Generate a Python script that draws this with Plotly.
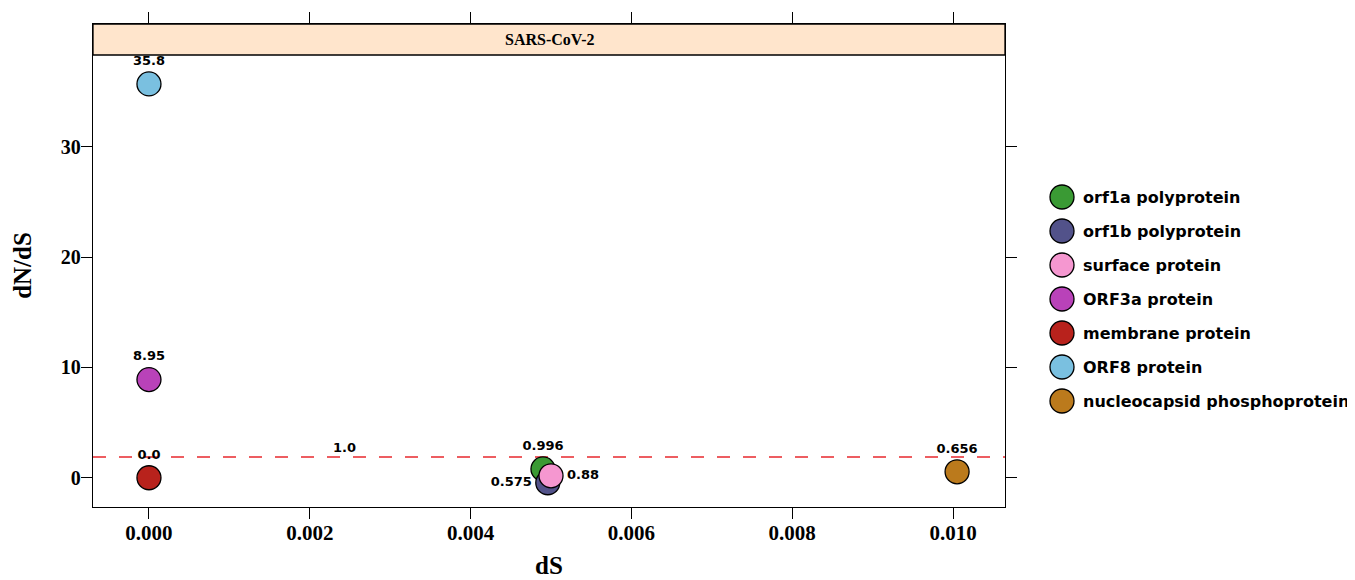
import plotly.graph_objects as go

genes = ["orf1a polyprotein", "orf1b polyprotein", "surface protein", "ORF3a protein",
         "membrane protein", "ORF8 protein", "nucleocapsid phosphoprotein"]
colors = ["#3a9a34", "#52528a", "#f597d0", "#b942b9", "#b8221c", "#7ac0e0", "#bb7a1c"]
dS = [0.00490, 0.00496, 0.00500, 0.0, 0.0, 0.0, 0.01005]
dNdS_pos = [0.80, -0.45, 0.18, 8.9, 0.0, 35.7, 0.54]
dNdS_label = ["0.996", "0.575", "0.88", "8.95", "0.0", "35.8", "0.656"]
label_pos = ["top center", "middle left", "middle right", "top center",
             "top center", "top center", "top center"]
ref_line_y = 1.88
ref_label = "1.0"
ref_label_x = 0.00243
panel_title = "SARS-CoV-2"
x_ticks = [0.000, 0.002, 0.004, 0.006, 0.008, 0.010]
y_ticks = [0, 10, 20, 30]

x_range = [-0.000696, 0.010646]
y_range = [-2.65, 41.13]
y_strip = 38.32

OFF = 8  # page body margin
L, R, T, B = 93 - OFF, 1005 - OFF, 24 - OFF, 507 - OFF

fig = go.Figure()

# reference dashed line
fig.add_trace(go.Scatter(x=x_range, y=[ref_line_y, ref_line_y], mode="lines",
                         line=dict(color="#e8282e", width=1.3, dash="13px,13px"),
                         showlegend=False, hoverinfo="skip"))

for g, c, x, y, t, p in zip(genes, colors, dS, dNdS_pos, dNdS_label, label_pos):
    fig.add_trace(go.Scatter(
        x=[x], y=[y], mode="markers+text", name=g, text=[t], textposition=p,
        textfont=dict(family="DejaVu Sans", size=13, color="black", weight="bold"),
        marker=dict(size=24, color=c, line=dict(color="black", width=1.3)),
        showlegend=False, cliponaxis=False))

fig.add_annotation(x=ref_label_x, y=ref_line_y, text="<b>" + ref_label + "</b>",
                   showarrow=False, yanchor="bottom", yshift=0,
                   font=dict(family="DejaVu Sans", size=13, color="black"))

# strip header
fig.add_shape(type="rect", xref="paper", yref="y", x0=0, x1=1, y0=y_strip, y1=y_range[1],
              fillcolor="#ffe5cc", line=dict(color="black", width=1.3), layer="above")
fig.add_annotation(xref="paper", yref="y", x=0.5, y=(y_strip + y_range[1]) / 2,
                   text="<b>" + panel_title + "</b>", showarrow=False,
                   font=dict(family="Liberation Serif", size=16, color="black"))

# manual legend
leg_y0 = 197 - OFF
leg_dy = 34
for i, (g, c) in enumerate(zip(genes, colors)):
    yp = 1 - (leg_y0 + i * leg_dy - T) / (B - T)
    fig.add_shape(type="circle", xref="paper", yref="paper",
                  xsizemode="pixel", ysizemode="pixel",
                  xanchor=(1062 - OFF - L) / (R - L), yanchor=yp,
                  x0=-12, x1=12, y0=-12, y1=12,
                  fillcolor=c, line=dict(color="black", width=1.3))
    fig.add_annotation(xref="paper", yref="paper", x=(1081 - OFF - L) / (R - L), y=yp,
                       xanchor="left", yanchor="middle", showarrow=False,
                       text="<b>" + g + "</b>",
                       font=dict(family="DejaVu Sans", size=16, color="black"))

axis_common = dict(showgrid=False, zeroline=False, showline=True, linecolor="black",
                   linewidth=1.3, mirror="ticks", ticks="outside", ticklen=11,
                   tickwidth=1.3, tickcolor="black", automargin=False,
                   ticklabelstandoff=-4)

fig.update_xaxes(range=x_range, tickvals=x_ticks,
                 ticktext=["<b>%.3f</b>" % v for v in x_ticks],
                 tickfont=dict(family="Liberation Serif", size=21, color="black"),
                 title=dict(text="<b>dS</b>", standoff=12,
                            font=dict(family="Liberation Serif", size=25, color="black")),
                 **axis_common)
fig.update_yaxes(range=y_range, tickvals=y_ticks,
                 ticktext=["<b>%d</b>" % v for v in y_ticks],
                 tickfont=dict(family="Liberation Serif", size=20, color="black"),
                 title=dict(text="<b>dN/dS</b>", standoff=22,
                            font=dict(family="Liberation Serif", size=25, color="black")),
                 **axis_common)

fig.update_layout(width=1355, height=580, plot_bgcolor="white", paper_bgcolor="white",
                  margin=dict(l=L, r=1355 - R, t=T, b=580 - B, autoexpand=False),
                  showlegend=False)

fig.write_html("out.html")
